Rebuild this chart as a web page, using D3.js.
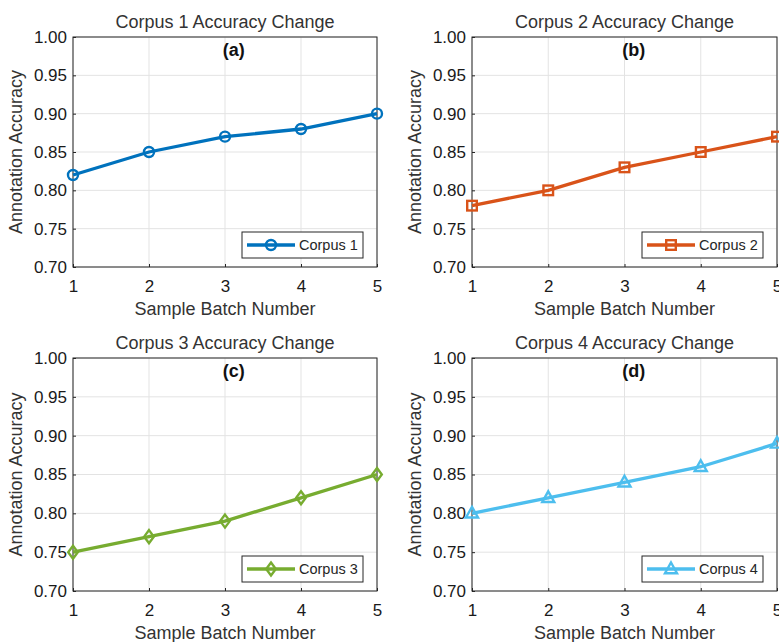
<!DOCTYPE html>
<html>
<head>
<meta charset="utf-8">
<script src="https://cdn.jsdelivr.net/npm/d3@7"></script>
<style>
  body { margin: 0; background: #fff; }
  svg text { font-family: "Liberation Sans", Arial, Helvetica, sans-serif; }
</style>
</head>
<body>
<svg id="chart" width="779" height="642"></svg>
<script>
const batches = [1, 2, 3, 4, 5]
const corpus1 = [0.82, 0.85, 0.87, 0.88, 0.90]
const corpus2 = [0.78, 0.80, 0.83, 0.85, 0.87]
const corpus3 = [0.75, 0.77, 0.79, 0.82, 0.85]
const corpus4 = [0.80, 0.82, 0.84, 0.86, 0.89]
const yTicks = [0.70, 0.75, 0.80, 0.85, 0.90, 0.95, 1.00]
const titles = ["Corpus 1 Accuracy Change", "Corpus 2 Accuracy Change", "Corpus 3 Accuracy Change", "Corpus 4 Accuracy Change"]
const tags = ["(a)", "(b)", "(c)", "(d)"]
const names = ["Corpus 1", "Corpus 2", "Corpus 3", "Corpus 4"]
const series = [corpus1, corpus2, corpus3, corpus4]

const colors = ["#0072BD", "#D95319", "#77AC30", "#4DBEEE"]
const symbols = ["circle", "square", "diamond", "triangle"]

const boxes = [
  {x0: 73, x1: 377, y0: 37, y1: 267},
  {x0: 472, x1: 777, y0: 37, y1: 267},
  {x0: 73, x1: 377, y0: 358, y1: 591},
  {x0: 472, x1: 777, y0: 358, y1: 591}
]

const svg = d3.select("svg#chart")
const ink = "#262626"

const marker = (g, kind, color) => {
  const common = s => s.attr("fill", "none").attr("stroke", color).attr("stroke-width", 2.4)
  if (kind === "circle") g.append("circle").attr("r", 5).call(common)
  else if (kind === "square") g.append("rect").attr("x", -4.8).attr("y", -4.8).attr("width", 9.6).attr("height", 9.6).call(common)
  else if (kind === "diamond") g.append("path").attr("d", "M0,-6.5L4.8,0L0,6.5L-4.8,0Z").call(common)
  else g.append("path").attr("d", "M0,-6.5L6,4.2L-6,4.2Z").call(common)
}

series.forEach((vals, i) => {
  const b = boxes[i]
  const color = colors[i]
  const x = d3.scaleLinear().domain([1, 5]).range([b.x0, b.x1])
  const y = d3.scaleLinear().domain([0.70, 1.00]).range([b.y1, b.y0])
  const g = svg.append("g")

  // grid
  g.append("g")
    .selectAll("line.gx")
    .data(batches)
    .join("line")
      .attr("x1", d => x(d)).attr("x2", d => x(d))
      .attr("y1", b.y0).attr("y2", b.y1)
      .attr("stroke", "#e3e3e3").attr("stroke-width", 1)
  g.append("g")
    .selectAll("line.gy")
    .data(yTicks)
    .join("line")
      .attr("x1", b.x0).attr("x2", b.x1)
      .attr("y1", d => y(d)).attr("y2", d => y(d))
      .attr("stroke", "#e3e3e3").attr("stroke-width", 1)

  // axes
  const xa = g.append("g")
    .attr("transform", `translate(0,${b.y1})`)
    .call(d3.axisBottom(x).tickValues(batches).tickFormat(d3.format("d")).tickSize(-3).tickPadding(13))
  const ya = g.append("g")
    .attr("transform", `translate(${b.x0},0)`)
    .call(d3.axisLeft(y).tickValues(yTicks).tickFormat(d3.format(".2f")).tickSize(-3).tickPadding(6))
  ;[xa, ya].forEach(a => {
    a.select(".domain").remove()
    a.selectAll("line").attr("stroke", ink)
    a.selectAll("text").attr("fill", "#1a1a1a").attr("font-size", 17)
  })
  xa.selectAll("text").attr("dy", "0.71em")

  g.append("rect")
    .attr("x", b.x0).attr("y", b.y0)
    .attr("width", b.x1 - b.x0).attr("height", b.y1 - b.y0)
    .attr("fill", "none").attr("stroke", ink).attr("stroke-width", 1)

  // titles and labels
  g.append("text")
    .attr("x", (b.x0 + b.x1) / 2).attr("y", b.y0 - 9)
    .attr("text-anchor", "middle").attr("font-size", 18).attr("fill", "#333")
    .text(titles[i])
  g.append("text")
    .attr("x", (b.x0 + b.x1) / 2).attr("y", b.y1 + 48)
    .attr("text-anchor", "middle").attr("font-size", 18).attr("fill", "#333")
    .text("Sample Batch Number")
  g.append("text")
    .attr("transform", `translate(${b.x0 - 51},${(b.y0 + b.y1) / 2}) rotate(-90)`)
    .attr("text-anchor", "middle").attr("font-size", 18).attr("fill", "#333")
    .text("Annotation Accuracy")
  g.append("text")
    .attr("x", x(2.97)).attr("y", y(0.975))
    .attr("font-size", 18).attr("font-weight", "bold").attr("fill", "#111")
    .text(tags[i])

  // series
  const line = d3.line().x((d, j) => x(batches[j])).y(d => y(d))
  g.append("path")
    .datum(vals)
    .attr("d", line)
    .attr("fill", "none").attr("stroke", color).attr("stroke-width", 3.3)
  g.append("g")
    .selectAll("g")
    .data(vals)
    .join("g")
      .attr("transform", (d, j) => `translate(${x(batches[j])},${y(d)})`)
      .each(function () { marker(d3.select(this), symbols[i], color) })

  // legend
  const lw = 121, lh = 26
  const lx = b.x1 - 135, ly = b.y1 - 35
  const leg = g.append("g").attr("transform", `translate(${lx},${ly})`)
  leg.append("rect").attr("width", lw).attr("height", lh)
    .attr("fill", "#fff").attr("stroke", ink).attr("stroke-width", 1)
  leg.append("line").attr("x1", 5).attr("x2", 53).attr("y1", lh / 2).attr("y2", lh / 2)
    .attr("stroke", color).attr("stroke-width", 3.3)
  const lm = leg.append("g").attr("transform", `translate(29,${lh / 2})`)
  marker(lm, symbols[i], color)
  leg.append("text").attr("x", 57).attr("y", lh / 2).attr("dy", "0.35em")
    .attr("font-size", 14.5).attr("fill", ink)
    .text(names[i])
})
</script>
</body>
</html>
